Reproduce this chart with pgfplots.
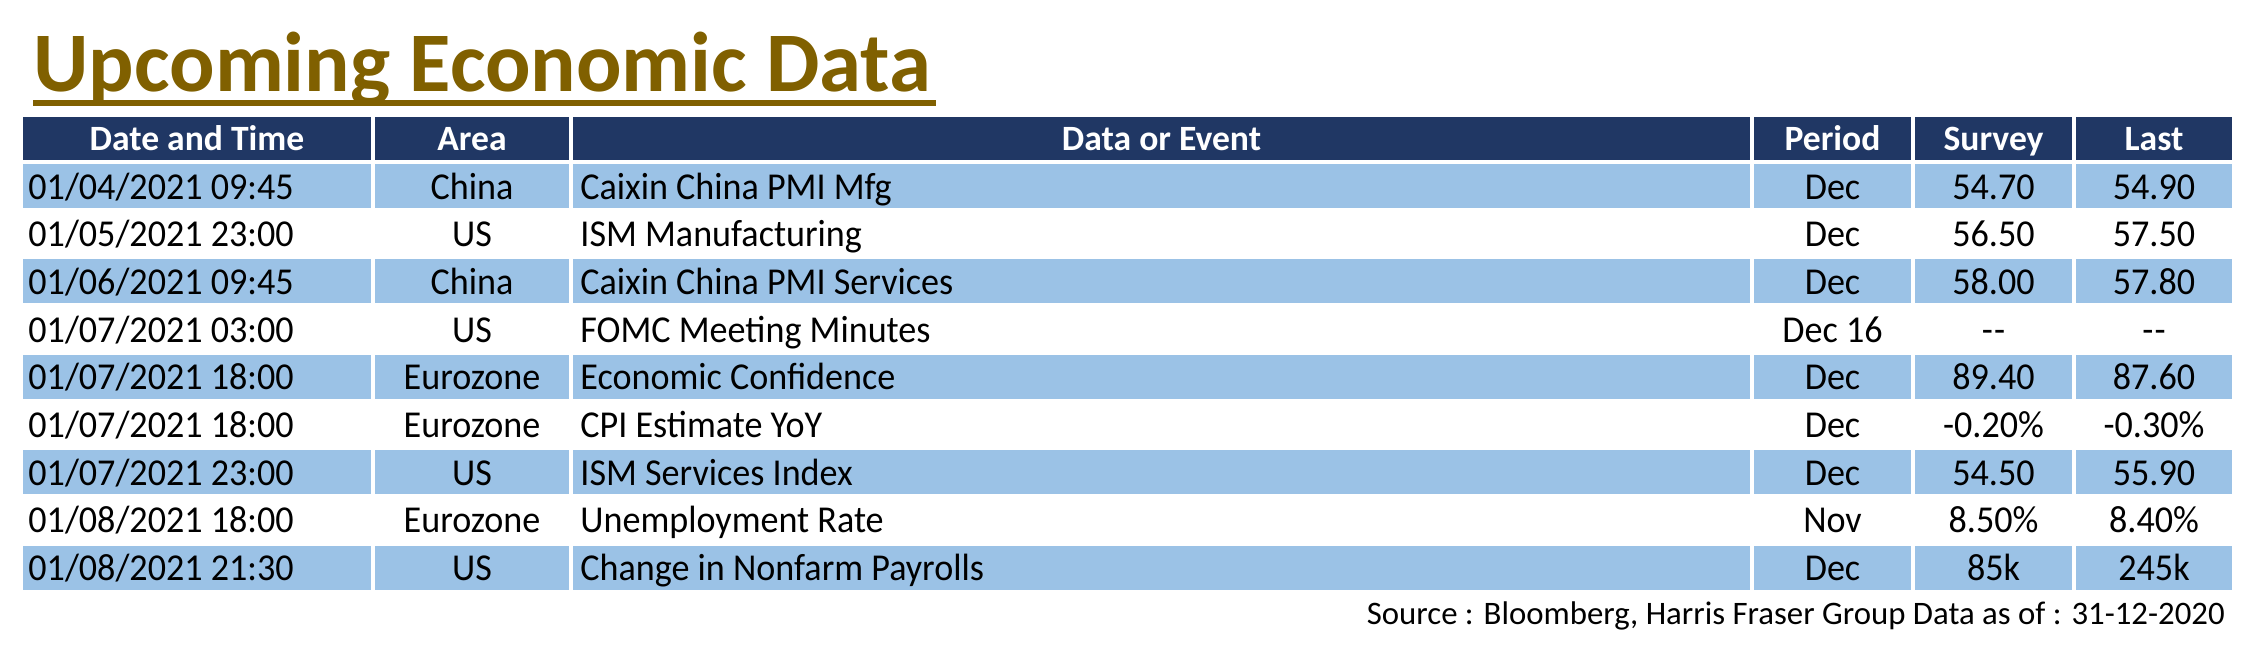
\documentclass[border=0pt]{standalone}
\usepackage{pgfplots}
\usepackage{pgfplotstable}
\pgfplotsset{compat=1.18}
\usepackage{fontspec}
\setmainfont{Carlito}
\newfontfamily\cellfont{Carlito}[FakeStretch=0.95, Ligatures=TeX]

\definecolor{navy}{HTML}{203764}
\definecolor{rowblue}{HTML}{9BC2E6}
\definecolor{gold}{HTML}{806000}
\newcommand\dd{-\kern0.03em-}

% one row per event, r = row number
\pgfplotstableread[col sep=semicolon]{
r;date;area;event;period;survey;last
1;01/04/2021 09:45;China;Caixin China PMI Mfg;Dec;54.70;54.90
2;01/05/2021 23:00;US;ISM Manufacturing;Dec;56.50;57.50
3;01/06/2021 09:45;China;Caixin China PMI Services;Dec;58.00;57.80
4;01/07/2021 03:00;US;FOMC Meeting Minutes;Dec 16;\dd;\dd
5;01/07/2021 18:00;Eurozone;Economic Confidence;Dec;89.40;87.60
6;01/07/2021 18:00;Eurozone;CPI Estimate YoY;Dec;-0.20\%;-0.30\%
7;01/07/2021 23:00;US;ISM Services Index;Dec;54.50;55.90
8;01/08/2021 18:00;Eurozone;Unemployment Rate;Nov;8.50\%;8.40\%
9;01/08/2021 21:30;US;Change in Nonfarm Payrolls;Dec;85k;245k
}\econ

\pgfplotsset{
  cell/.style={draw=none, mark=none, nodes near coords,
    point meta=explicit symbolic,
    nodes near coords style={font=\cellfont\fontsize{19}{22}\selectfont,
      text=black, inner sep=0pt, anchor=#1}},
}

\begin{document}
\begin{tikzpicture}
\begin{axis}[
  scale only axis, width=1129pt, height=329pt,
  xmin=0, xmax=2258, ymin=0, ymax=658, y dir=reverse,
  hide axis, clip=false,
]
\path (axis cs:0,0) rectangle (axis cs:2258,658);

% header and shaded rows
\pgfplotsextra{
  \foreach \a/\b in {22.7/371,375/569,573/1750,1754/1911,1915/2072,2076/2232}{
    \fill[navy] (axis cs:\a,117) rectangle (axis cs:\b,160);
    \foreach \r in {0,2,4,6,8}{
      \fill[rowblue] (axis cs:\a,{164+\r*47.7}) rectangle (axis cs:\b,{208+\r*47.7});
    }
  }
}

% title
\node[anchor=base west, inner sep=0pt, text=gold,
  font=\fontsize{42.4}{48}\selectfont\bfseries] at (axis cs:33,92) {Upcoming Economic Data};
\fill[gold] (axis cs:33,100) rectangle (axis cs:936,106);

% header labels
\begin{scope}[every node/.style={anchor=base, inner sep=0pt, text=white,
    font=\fontsize{17.8}{20}\selectfont\bfseries}]
  \node at (axis cs:197,150) {Date and Time};
  \node at (axis cs:472,150) {Area};
  \node at (axis cs:1161.5,150) {Data or Event};
  \node at (axis cs:1832.5,150) {Period};
  \node at (axis cs:1993.5,150) {Survey};
  \node at (axis cs:2154,150) {Last};
\end{scope}

% table body
\addplot[cell=base west] table[x expr=28, y expr=\thisrow{r}*47.7+151.3, meta=date] {\econ};
\addplot[cell=base] table[x expr=472, y expr=\thisrow{r}*47.7+151.3, meta=area] {\econ};
\addplot[cell=base west] table[x expr=580, y expr=\thisrow{r}*47.7+151.3, meta=event] {\econ};
\addplot[cell=base] table[x expr=1832.5, y expr=\thisrow{r}*47.7+151.3, meta=period] {\econ};
\addplot[cell=base] table[x expr=1993.5, y expr=\thisrow{r}*47.7+151.3, meta=survey] {\econ};
\addplot[cell=base] table[x expr=2154, y expr=\thisrow{r}*47.7+151.3, meta=last] {\econ};

% source
\node[anchor=base east, inner sep=0pt, font=\fontsize{16.4}{19}\selectfont]
  at (axis cs:2225,624) {Source : Bloomberg, Harris Fraser Group Data as of : 31-12-2020};
\end{axis}
\end{tikzpicture}
\end{document}
